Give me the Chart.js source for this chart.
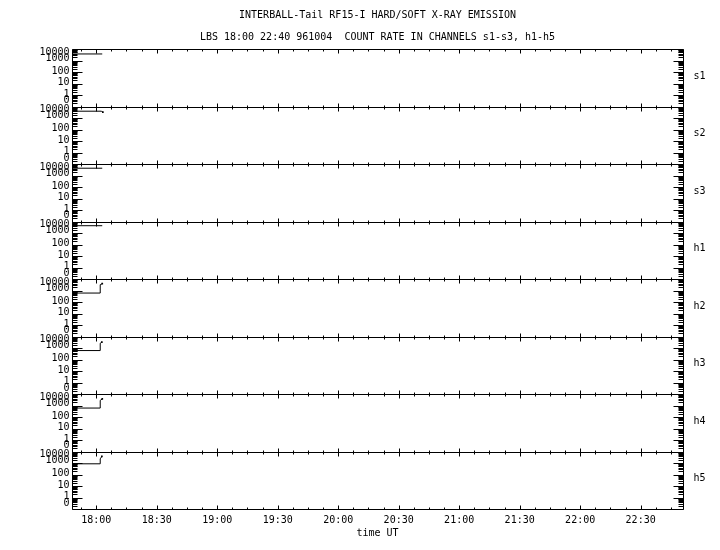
<!DOCTYPE html>
<html>
<head>
<meta charset="utf-8">
<style>
html,body{margin:0;padding:0;background:#fff;}
#wrap{width:720px;height:550px;}
canvas{display:block;}
</style>
</head>
<body>
<div id="wrap"><canvas id="c" width="720" height="550"></canvas></div>
<script src="https://cdn.jsdelivr.net/npm/chart.js@4/dist/chart.umd.min.js"></script>
<script>
// ---------------- data ----------------
const titleText = 'INTERBALL-Tail RF15-I HARD/SOFT X-RAY EMISSION';
const subtitleText = 'LBS 18:00 22:40 961004  COUNT RATE IN CHANNELS s1-s3, h1-h5';
const xTitleText = 'time UT';

const channelNames = ['s1', 's2', 's3', 'h1', 'h2', 'h3', 'h4', 'h5'];

// time in minutes after 18:00 UT, count rate
const s1Time = [-12, 3.0];
const s1Rate = [3700, 3700];
const s2Time = [-12, 2.5, 3.3];
const s2Rate = [3900, 3900, 3200];
const s3Time = [-12, 3.0];
const s3Rate = [4300, 4300];
const h1Time = [-12, 3.0];
const h1Rate = [4300, 4300];
const h2Time = [-12, 2.0, 2.0, 3.0];
const h2Rate = [600, 600, 3200, 3900];
const h3Time = [-12, 2.0, 2.0, 2.8];
const h3Rate = [600, 600, 2600, 3200];
const h4Time = [-12, 2.0, 2.0, 3.0];
const h4Rate = [600, 600, 2800, 3700];
const h5Time = [-12, 2.0, 2.0, 2.8];
const h5Rate = [850, 850, 2300, 3700];

const channelTimes = [s1Time, s2Time, s3Time, h1Time, h2Time, h3Time, h4Time, h5Time];
const channelRates = [s1Rate, s2Rate, s3Rate, h1Rate, h2Rate, h3Rate, h4Rate, h5Rate];

const xMin = -12;    // 17:48
const xMax = 291;    // 22:51
const xTickMinutes = [0, 30, 60, 90, 120, 150, 180, 210, 240, 270];
const xTickLabels = ['18:00', '18:30', '19:00', '19:30', '20:00', '20:30', '21:00', '21:30', '22:00', '22:30'];
const xMinorStep = 7.5;

const yMin = 0.1;
const yMax = 10000;
const yTickValues = [0.1, 1, 10, 100, 1000, 10000];
const yTickLabels = ['0', '1', '10', '100', '1000', '10000'];

// ---------------- styling ----------------
const FONT = '"DejaVu Sans Mono", "Liberation Mono", monospace';
const fontObj = { family: FONT, size: 10, weight: 'normal' };
const labelNudge = [-5.7, -1, -0.6, -0.6, -2.5, 3.4];  // px shift of y labels
const endMarked = { s2: true, h2: true, h3: true, h4: true, h5: true };

const datasets = channelNames.map((name, i) => ({
  label: name,
  data: channelTimes[i].map((t, j) => ({ x: t, y: channelRates[i][j] })),
  yAxisID: 'y' + i,
  borderColor: '#000',
  backgroundColor: '#000',
  borderWidth: 1,
  pointStyle: 'rect',
  pointRadius: ctx => (endMarked[name] && ctx.dataIndex === ctx.dataset.data.length - 1) ? 1.2 : 0,
  pointBorderWidth: 0,
  fill: false,
  tension: 0
}));

const scales = {
  x: {
    type: 'linear',
    min: xMin,
    max: xMax,
    position: 'bottom',
    afterBuildTicks: s => { s.ticks = xTickMinutes.map(v => ({ value: v })); },
    afterFit: s => { s.height = 41; },
    ticks: {
      autoSkip: false, maxRotation: 0, padding: 5, color: '#000', font: fontObj,
      callback: v => xTickLabels[xTickMinutes.indexOf(v)]
    },
    grid: { display: false, drawTicks: false },
    border: { display: false },
    title: { display: true, text: xTitleText, color: '#000', font: fontObj, padding: { top: 0, bottom: 11 } }
  }
};
channelNames.forEach((name, i) => {
  scales['y' + i] = {
    type: 'logarithmic',
    min: yMin,
    max: yMax,
    position: 'left',
    stack: 'panels',
    stackWeight: 1,
    weight: channelNames.length - i,
    afterFit: s => { s.width = 0; },
    ticks: { display: false },
    grid: { display: false, drawTicks: false },
    border: { display: false }
  };
});

const decorPlugin = {
  id: 'decor',
  afterDraw(chart) {
    const ctx = chart.ctx;
    const xs = chart.scales.x;
    const L = Math.round(chart.chartArea.left) + 0.5;
    const R = Math.round(chart.chartArea.right) + 0.5;
    ctx.save();
    ctx.strokeStyle = '#000';
    ctx.lineWidth = 1;
    ctx.beginPath();
    channelNames.forEach((name, i) => {
      const ys = chart.scales['y' + i];
      const T = Math.round(ys.top) + 0.5;
      const B = Math.round(ys.bottom) + 0.5;
      ctx.moveTo(L, T); ctx.lineTo(R, T);
      ctx.moveTo(L, B); ctx.lineTo(R, B);
      ctx.moveTo(L, T); ctx.lineTo(L, B);
      ctx.moveTo(R, T); ctx.lineTo(R, B);
      // x ticks (inward, top and bottom of each panel)
      for (let m = Math.ceil(xs.min / xMinorStep) * xMinorStep; m <= xs.max; m += xMinorStep) {
        const px = Math.round(xs.getPixelForValue(m)) + 0.5;
        const len = xTickMinutes.includes(m) ? 4 : 2;
        ctx.moveTo(px, T); ctx.lineTo(px, T + len);
        ctx.moveTo(px, B); ctx.lineTo(px, B - len);
      }
      // y ticks (log, inward, left and right)
      for (let e = -1; e <= 4; e++) {
        for (let k = 1; k <= 9; k++) {
          const v = k * Math.pow(10, e);
          if (v < yMin * 0.999 || v > yMax * 1.001) continue;
          const py = Math.round(ys.getPixelForValue(v)) + 0.5;
          const len = k === 1 ? 10 : 5;
          ctx.moveTo(L, py); ctx.lineTo(L + len, py);
          ctx.moveTo(R, py); ctx.lineTo(R - len, py);
        }
      }
    });
    ctx.stroke();

    // y labels and channel names
    ctx.fillStyle = '#000';
    ctx.font = '10px ' + FONT;
    channelNames.forEach((name, i) => {
      const ys = chart.scales['y' + i];
      ctx.textAlign = 'right';
      ctx.textBaseline = 'middle';
      yTickValues.forEach((v, j) => {
        ctx.fillText(yTickLabels[j], L - 3, ys.getPixelForValue(v) + labelNudge[j]);
      });
      ctx.textAlign = 'left';
      ctx.fillText(name, R + 10, (ys.top + ys.bottom) / 2 - 1.5);
    });
    ctx.restore();
  }
};

new Chart(document.getElementById('c'), {
  type: 'line',
  data: { datasets },
  options: {
    responsive: false,
    animation: false,
    devicePixelRatio: 1,
    parsing: true,
    layout: { padding: { left: 72, right: 37, top: 0, bottom: 0 } },
    scales,
    plugins: {
      legend: { display: false },
      tooltip: { enabled: false },
      title: { display: true, text: titleText, color: '#000', font: fontObj, padding: { top: 9, bottom: 10 } },
      subtitle: { display: true, text: subtitleText, color: '#000', font: fontObj, padding: { top: 0, bottom: 6 } }
    }
  },
  plugins: [decorPlugin]
});
</script>
</body>
</html>
